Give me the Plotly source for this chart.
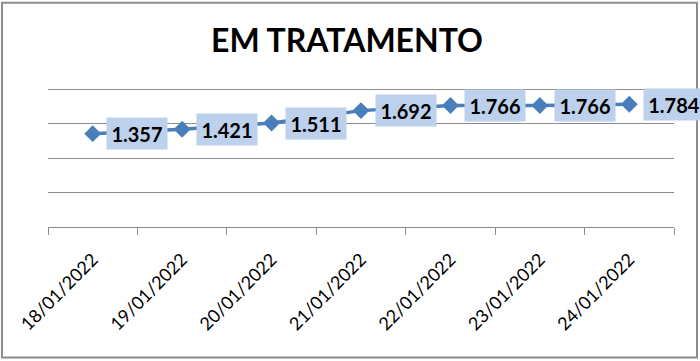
import plotly.graph_objects as go

categories = ["18/01/2022", "19/01/2022", "20/01/2022", "21/01/2022",
              "22/01/2022", "23/01/2022", "24/01/2022"]
values = [1357, 1421, 1511, 1692, 1766, 1766, 1784]
y_ticks = [0, 500, 1000, 1500, 2000]
title_text = "EM TRATAMENTO"

W, H = 700, 361
y_top = 2050
L, R, B = 48, 26, 134
unit = 138 / 2000
T = 361 - B - y_top * unit
pw, ph = W - L - R, H - T - B

def fmt(v):
    return f"{v:,}".replace(",", ".")

fig = go.Figure()
fig.add_trace(go.Scatter(
    x=categories, y=values, mode="lines+markers",
    line=dict(color="#4A7EBB", width=3.5),
    marker=dict(symbol="diamond", size=13, color="#4A7EBB",
                line=dict(width=0)),
    hoverinfo="skip", showlegend=False, cliponaxis=False,
))

for c, v in zip(categories, values):
    fig.add_annotation(
        x=c, y=v, xref="x", yref="y", text=fmt(v), showarrow=False,
        xshift=pw / len(categories) / 2,
        font=dict(family="Lato", size=20, color="black", weight="bold"),
        bgcolor="#BDD0EC", borderpad=4, width=52, height=23,
    )

fig.add_shape(
    type="rect", xref="paper", yref="paper",
    x0=(2 - L) / pw, x1=(697 - L) / pw,
    y0=-(358 - T - ph) / ph, y1=(H - B - 2) / ph,
    line=dict(color="#8C8C8C", width=2), layer="below",
)

fig.update_layout(
    width=W, height=H,
    margin=dict(l=L, r=R, t=T, b=B, autoexpand=False),
    paper_bgcolor="white", plot_bgcolor="white",
    title=dict(text=title_text, x=347 / W, xanchor="center",
               y=1 - 41 / H, yanchor="middle",
               font=dict(family="Lato", size=32, color="black", weight="bold")),
    xaxis=dict(
        type="category", tickson="boundaries", ticks="outside", ticklen=7,
        tickcolor="#8C8C8C", showline=True, linecolor="#8C8C8C", linewidth=1,
        showgrid=False, tickangle=-45, automargin=False, ticklabelstandoff=14,
        tickfont=dict(family="Lato", size=18, color="black"),
        range=[-0.5, len(categories) - 0.5], fixedrange=True,
    ),
    yaxis=dict(
        range=[y_ticks[0], y_top], tickvals=y_ticks, showticklabels=False,
        showgrid=True, gridcolor="#8C8C8C", gridwidth=1, zeroline=False,
        showline=False, fixedrange=True, automargin=False,
    ),
)

fig.write_html("out.html", config={"displayModeBar": False},
               post_script="document.body.style.margin='0';document.body.style.overflow='hidden';")
